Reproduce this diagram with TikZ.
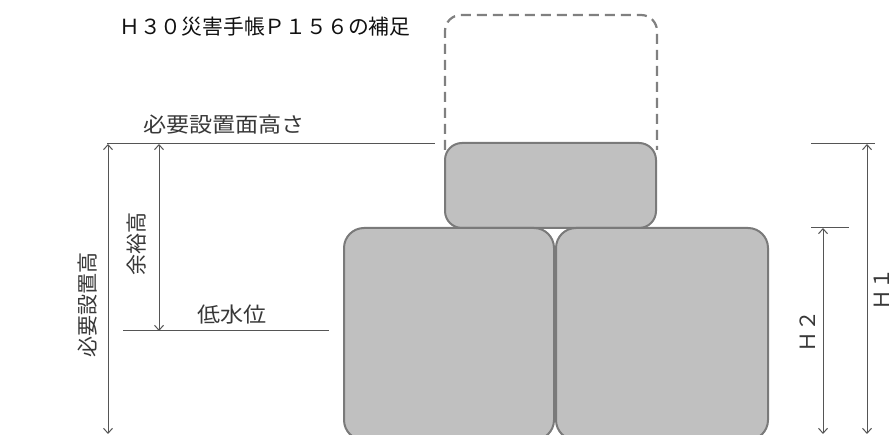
\documentclass[tikz,border=0pt]{standalone}
\usepackage{fontspec}
\newfontfamily\jp{Noto Sans CJK JP}
\usetikzlibrary{arrows.meta}
\definecolor{dimgray}{HTML}{555555}
\definecolor{blockfill}{HTML}{C0C0C0}
\definecolor{blockedge}{HTML}{7A7A7A}
\definecolor{ghostedge}{HTML}{808080}
\definecolor{labelgray}{HTML}{383838}
\definecolor{titlegray}{HTML}{111111}
\tikzset{
  dimline/.style={draw=dimgray, line width=1pt},
  dimarrow/.style={dimline, {Straight Barb[length=5pt,width=9pt]}-{Straight Barb[length=5pt,width=9pt]}},
  block/.style={draw=blockedge, fill=blockfill, line width=2pt, rounded corners=17pt, inner sep=0pt, outer sep=0pt, anchor=north west},
  ghost/.style={draw=ghostedge, dash pattern=on 10pt off 6pt, line width=2.2pt, rounded corners=16pt},
  hlabel/.style={font=\jp\fontsize{21}{24}\selectfont, text=labelgray, inner sep=0pt, xscale=1.1},
  vlabel/.style={font=\jp\fontsize{21}{24}\selectfont, text=labelgray, inner sep=0pt, rotate=90},
  titlelabel/.style={font=\jp\fontsize{20.8}{24}\selectfont, text=titlegray, inner sep=0pt, anchor=west}
}
\begin{document}
\begin{tikzpicture}[x=1pt,y=-1pt]
\useasboundingbox (0,0) rectangle (892,435);
\clip (0,0) rectangle (892,435);
\fill[white] (0,0) rectangle (892,435);

% title
\node[titlelabel] (title) at (119,27) {Ｈ３０災害手帳Ｐ１５６の補足};

% dashed (planned) block
\draw[ghost] (445,150) -- (445,15) -- (657,15) -- (657,150);

% blocks
\node[block, minimum width=211pt, minimum height=85pt] (upper) at (445,143) {};
\node[block, minimum width=210pt, minimum height=212pt, rounded corners=20pt] (lowleft) at (344,228) {};
\node[block, minimum width=212pt, minimum height=212pt, rounded corners=20pt] (lowright) at (556,228) {};

% reference coordinates
\coordinate (setL) at (107,144);
\coordinate (setR) at (435,144);
\coordinate (lowL) at (123,331);
\coordinate (lowR) at (329,331);
\coordinate (reqTop) at (108,144);
\coordinate (reqBot) at (108,434);
\coordinate (marTop) at (159,144);
\coordinate (marBot) at (159,331);
\coordinate (hoL) at (811,144);
\coordinate (hoR) at (875,144);
\coordinate (htL) at (811,228);
\coordinate (htR) at (849,228);
\coordinate (hoTop) at (867,144);
\coordinate (hoBot) at (867,434);
\coordinate (htTop) at (823,228);
\coordinate (htBot) at (823,434);

% lines
\draw[dimline] (setL) -- (setR);
\draw[dimline] (lowL) -- (lowR);
\draw[dimline] (hoL) -- (hoR);
\draw[dimline] (htL) -- (htR);

% dimension arrows
\draw[dimarrow] (reqTop) -- (reqBot);
\draw[dimarrow] (marTop) -- (marBot);
\draw[dimarrow] (hoTop) -- (hoBot);
\draw[dimarrow] (htTop) -- (htBot);

% labels
\node[hlabel] (setlabel) at (224,125) {必要設置面高さ};
\node[hlabel] (lowlabel) at (232,315) {低水位};
\node[vlabel] (marlabel) at (137,244) {余裕高};
\node[vlabel] (reqlabel) at (88,305) {必要設置高};
\node[vlabel] (h2label) at (808,332) {Ｈ２};
\node[vlabel] (h1label) at (882,290) {Ｈ１};
\end{tikzpicture}
\end{document}
